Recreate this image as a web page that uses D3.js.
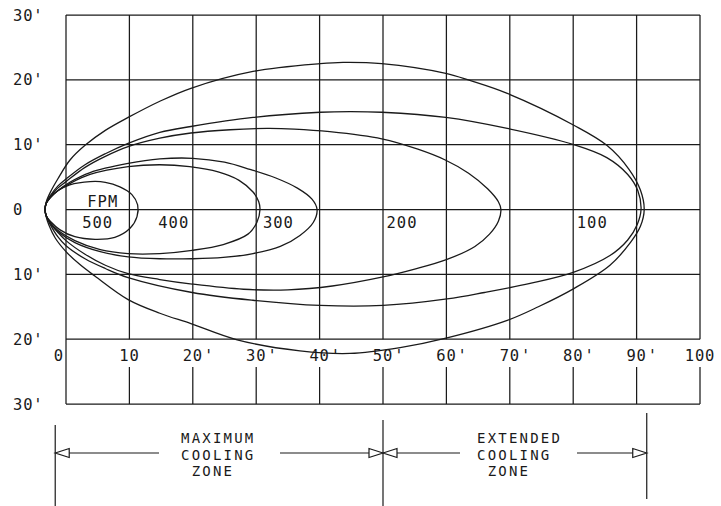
<!DOCTYPE html>
<html>
<head>
<meta charset="utf-8">
<script src="https://d3js.org/d3.v7.min.js"></script>
<style>
  html, body { margin: 0; padding: 0; background: #fff; }
  svg text { font-family: "DejaVu Sans Mono", "Liberation Mono", monospace; fill: #1a1a1a; }
</style>
</head>
<body>
<script>
// ---------- data ----------
const xTickValues = [0, 10, 20, 30, 40, 50, 60, 70, 80, 90, 100];
const xTickLabels = ["0", "10", "20'", "30'", "40'", "50'", "60'", "70'", "80'", "90'", "100"];
const yTickValues = [30, 20, 10, 0, -10, -20, -30];
const yTickLabels = ["30'", "20'", "10'", "0", "10'", "20'", "30'"];

// throw envelopes (feet): [distance, spread], traced clockwise from the outlet
const fpm500 = [[-3.3,0],[-3.1,1.0],[-2.4,2.0],[-1.3,2.9],[0.6,3.8],[3.8,4.3],[6.2,4.2],[8.5,3.5],[10.4,2.3],[11.3,0.7],
  [11.2,-1.1],[10.1,-2.9],[7.7,-4.3],[4.6,-4.6],[1.4,-4.2],[-1.0,-3.1],[-2.4,-1.9],[-3.1,-1.0]];
const fpm400 = [[-3.3,0],[-3.1,1.0],[-2.5,1.8],[-1.3,2.9],[0.6,4.0],[3.8,5.4],[9.8,6.6],[14.8,6.9],[19.5,6.6],[24.0,5.8],[27.3,4.5],[29.5,2.7],[30.4,1.2],[30.6,0],
  [30.1,-2.0],[28.7,-3.8],[24.8,-5.4],[19.9,-6.3],[14.8,-6.8],[9.8,-6.8],[5.4,-6.2],[1.4,-4.8],[-1.3,-3.2],[-2.5,-2.0],[-3.1,-1.0]];
const fpm300 = [[-3.3,0],[-3.1,1.0],[-2.5,1.8],[-1.3,2.9],[0.6,4.2],[3.8,5.7],[9.8,7.1],[14.8,7.8],[20.0,7.9],[25.0,7.3],[29.0,6.2],[33.0,4.9],[36.5,3.3],[38.8,1.6],[39.6,0],
  [39.0,-2.0],[36.9,-4.0],[33.8,-5.7],[29.5,-6.8],[24.8,-7.4],[19.9,-7.6],[14.8,-7.6],[9.8,-7.3],[5.4,-6.5],[1.4,-5.1],[-1.3,-3.4],[-2.5,-2.1],[-3.1,-1.0]];
const fpm200 = [[-3.3,0],[-3.1,1.0],[-2.4,2.1],[-1.3,3.3],[0,4.3],[3.0,6.5],[6.2,8.2],[9.8,9.7],[14.8,11.0],[19.7,11.8],[25.9,12.3],[31.7,12.5],[36.0,12.4],[41.6,12.0],[49.8,10.9],[55.5,9.3],[59.9,7.6],[63.5,5.6],[66.5,3.2],[68.2,1.2],[68.6,0],
  [68.2,-1.8],[66.8,-3.8],[64.5,-5.7],[60.1,-7.7],[55.0,-9.2],[50.0,-10.4],[42.0,-11.8],[35.0,-12.4],[28.0,-12.3],[19.9,-11.5],[14.8,-10.8],[9.8,-9.9],[6.2,-8.6],[3.0,-6.9],[0,-4.8],[-1.3,-3.5],[-2.4,-2.2],[-3.1,-1.0]];
const fpm100Inner = [[-3.3,0],[-3.1,1.1],[-2.5,2.1],[-1.3,3.6],[0,4.7],[3.0,6.9],[6.2,8.6],[9.8,10.2],[14.8,11.9],[19.7,12.8],[29.5,14.2],[40.1,15.0],[44.8,15.1],[49.8,15.0],[59.9,14.2],[69.6,12.5],[80.1,10.0],[85.3,8.0],[88.6,5.4],[90.2,2.9],[90.7,0],
  [90.1,-2.3],[88.6,-4.7],[85.8,-7.1],[80.0,-9.7],[73.2,-11.4],[66.0,-12.8],[60.1,-13.8],[50.0,-14.8],[40.1,-14.8],[29.5,-14.0],[19.9,-12.8],[9.8,-10.5],[6.2,-9.1],[3.0,-7.6],[0,-5.6],[-1.3,-4.2],[-2.5,-2.3],[-3.1,-1.1]];
const fpm100Outer = [[-3.3,0],[-3.1,1.2],[-2.5,2.6],[-1.3,4.7],[0.6,7.6],[3.0,9.9],[6.2,12.2],[9.8,14.2],[14.8,16.7],[19.7,18.7],[29.5,21.3],[40.1,22.5],[43.7,22.7],[49.8,22.5],[59.9,21.0],[63.7,19.9],[69.6,17.9],[80.1,13.0],[85.3,9.9],[88.8,6.2],[90.6,3.0],[91.2,0],
  [90.6,-2.6],[89.1,-5.0],[85.8,-8.6],[80.1,-12.2],[74.5,-15.0],[69.6,-17.1],[60.1,-19.8],[52.7,-21.3],[44.8,-22.2],[36.9,-21.8],[27.0,-20.1],[19.7,-17.6],[14.8,-16.0],[9.8,-13.9],[4.6,-10.3],[2.2,-8.5],[0,-6.5],[-1.7,-4.4],[-2.7,-2.4],[-3.1,-1.2]];
const envelopes = [fpm500, fpm400, fpm300, fpm200, fpm100Inner, fpm100Outer];

const curveLabels = ["500", "400", "300", "200", "100"];
const curveLabelX = [5, 17, 33.5, 53, 83];
const headerLabel = "FPM";

const zoneBounds = [-1.7, 50, 91.6];
const zoneLeftText = ["MAXIMUM", "COOLING", " ZONE"];
const zoneRightText = ["EXTENDED", "COOLING", " ZONE"];

// ---------- drawing ----------
const W = 721, H = 506;
const svg = d3.select("body").append("svg").attr("width", W).attr("height", H);

const x = d3.scaleLinear().domain([0, 100]).range([66, 700]);
const y = d3.scaleLinear().domain([30, -30]).range([15, 404]);

const ink = "#1a1a1a";
const grid = svg.append("g").attr("stroke", ink).attr("stroke-width", 1.25).attr("fill", "none");

// vertical grid lines in the plot area
grid.selectAll("line.v").data(xTickValues).join("line")
  .attr("x1", d => x(d)).attr("x2", d => x(d))
  .attr("y1", y(30)).attr("y2", d => d === 0 ? y(-30) : y(-20));
// horizontal grid lines
grid.selectAll("line.h").data(yTickValues).join("line")
  .attr("x1", x(0)).attr("x2", x(100))
  .attr("y1", d => y(d)).attr("y2", d => y(d));
// ticks in the bottom scale strip
grid.selectAll("line.t").data(xTickValues.filter(d => d > 0)).join("line")
  .attr("x1", d => x(d)).attr("x2", d => x(d))
  .attr("y1", y(-30) - 37).attr("y2", y(-30));

// y labels
svg.append("g").selectAll("text").data(yTickValues).join("text")
  .attr("x", 13).attr("y", d => y(d)).attr("dy", "0.36em")
  .attr("font-size", 15.5).attr("letter-spacing", 0.8)
  .text((d, i) => yTickLabels[i]);

// x labels (digits centred on the grid line, prime after)
const xl = svg.append("g");
xTickValues.forEach((v, i) => {
  const lab = xTickLabels[i];
  const digits = lab.replace("'", "");
  const t = xl.append("text").attr("y", y(-20) + 16).attr("dy", "0.36em").attr("font-size", 15.5)
    .attr("letter-spacing", 0.8);
  if (v === 0) {
    t.attr("x", x(v) - 2).attr("text-anchor", "end").text(digits);
  } else {
    t.attr("x", x(v)).attr("text-anchor", "middle").text(digits);
    if (lab.includes("'")) {
      xl.append("text").attr("x", x(v) + digits.length * 5.1 + 1).attr("y", y(-20) + 16).attr("dy", "0.36em")
        .attr("font-size", 15.5).text("'");
    }
  }
});

// envelopes
const line = d3.line().x(d => x(d[0])).y(d => y(d[1])).curve(d3.curveCatmullRomClosed.alpha(0.5));
svg.append("g").selectAll("path").data(envelopes).join("path")
  .attr("d", line).attr("fill", "none").attr("stroke", ink).attr("stroke-width", 1.3);

// labels inside envelopes
svg.append("g").selectAll("text").data(curveLabels).join("text")
  .attr("x", (d, i) => x(curveLabelX[i])).attr("y", y(-2)).attr("dy", "0.36em")
  .attr("text-anchor", "middle").attr("font-size", 15.5).attr("letter-spacing", 1)
  .text(d => d);
svg.append("text").attr("x", x(5.8)).attr("y", y(1.3)).attr("dy", "0.36em")
  .attr("text-anchor", "middle").attr("font-size", 15.5).attr("letter-spacing", 1).text(headerLabel);

// zone annotation
const ann = svg.append("g").attr("stroke", ink).attr("stroke-width", 1.2).attr("fill", "none");
const ay = 453;
ann.append("line").attr("x1", x(zoneBounds[0])).attr("x2", x(zoneBounds[0])).attr("y1", 425).attr("y2", 506);
ann.append("line").attr("x1", x(zoneBounds[1])).attr("x2", x(zoneBounds[1])).attr("y1", 420).attr("y2", 506);
ann.append("line").attr("x1", x(zoneBounds[2])).attr("x2", x(zoneBounds[2])).attr("y1", 413).attr("y2", 499);

function arrowHead(tipX, dir) { // dir: -1 points left, +1 points right
  const L = 14, h = 4.5;
  const bx = tipX - dir * L;
  ann.append("path").attr("d", `M${tipX},${ay} L${bx},${ay - h} L${bx},${ay + h} Z`);
  return bx;
}
const b1 = arrowHead(x(zoneBounds[0]), -1);
ann.append("line").attr("x1", b1).attr("x2", 159).attr("y1", ay).attr("y2", ay);
const b2 = arrowHead(x(zoneBounds[1]), 1);
ann.append("line").attr("x1", 280).attr("x2", b2).attr("y1", ay).attr("y2", ay);
const b3 = arrowHead(x(zoneBounds[1]), -1);
ann.append("line").attr("x1", b3).attr("x2", 460).attr("y1", ay).attr("y2", ay);
const b4 = arrowHead(x(zoneBounds[2]), 1);
ann.append("line").attr("x1", 577).attr("x2", b4).attr("y1", ay).attr("y2", ay);

function zoneText(lines, x0) {
  svg.append("g").selectAll("text").data(lines).join("text")
    .attr("x", x0).attr("y", (d, i) => 438 + i * 16.5).attr("dy", "0.36em")
    .attr("font-size", 14).attr("letter-spacing", 2.2)
    .attr("xml:space", "preserve").style("white-space", "pre")
    .text(d => d);
}
zoneText(zoneLeftText, 181);
zoneText(zoneRightText, 477);
</script>
</body>
</html>
